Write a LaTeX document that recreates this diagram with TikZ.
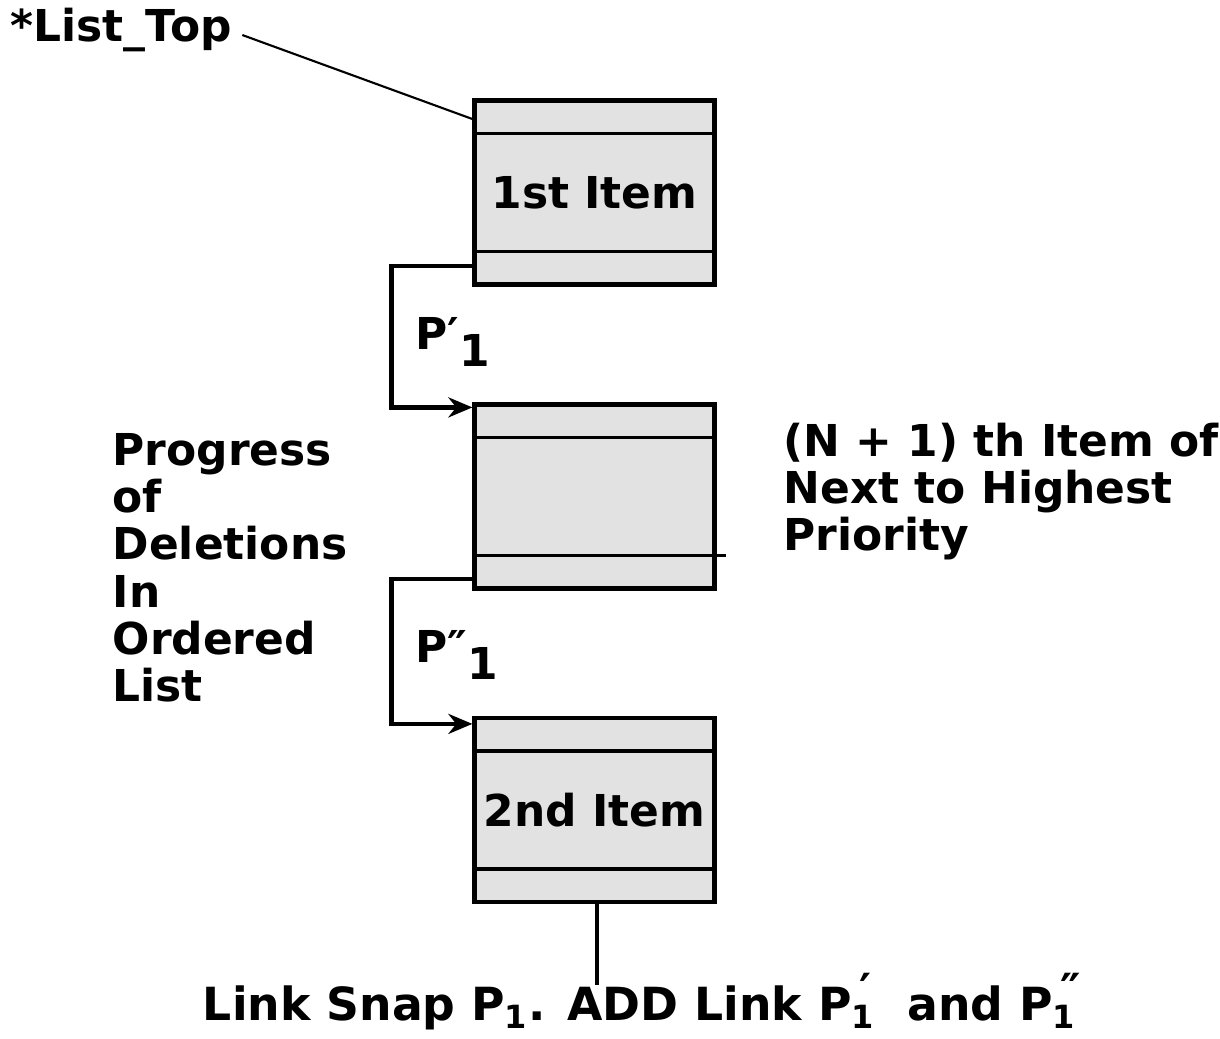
\documentclass[tikz,border=0pt]{standalone}
\usepackage{fontspec}
\setmainfont{DejaVu Sans}
\usetikzlibrary{arrows.meta,calc}
\definecolor{shade}{RGB}{226,226,226}
\newcommand{\lbl}{\fontsize{12.5}{13.4}\selectfont\bfseries}
\newcommand{\pr}[1]{\rlap{\raisebox{0.55ex}{\,#1}}}
\tikzset{
  >={Stealth[length=2.4mm,width=2mm]},
  item/.style={draw,fill=shade,line width=1.2pt,minimum width=24mm,minimum height=18.4mm,
    inner sep=0pt,font=\lbl},
  link/.style={->,line width=1.2pt},
  slot/.style={line width=1pt},
  tag/.style={font=\lbl,inner sep=0pt,align=left},
}

\begin{document}
\begin{tikzpicture}
    \useasboundingbox (0,0) rectangle (12.2,-10.38);
    % the three list items
    \node[item] (b1) at (5.945,-1.925) {1st Item};
    \node[item] (b2) at (5.945,-4.965) {};
    \node[item] (b3) at (5.945,-8.10) {2nd Item};
    \foreach \b in {b1,b2,b3} {
      \draw[slot] ($(\b.north west)+(0,-0.35)$) -- ($(\b.north east)+(0,-0.35)$);
    }
    \foreach \b in {b1,b3} {
      \draw[slot] ($(\b.south west)+(0,0.35)$) -- ($(\b.south east)+(0,0.35)$);
    }
    \draw[slot] ($(b2.south west)+(0,0.35)$) -- ($(b2.south east)+(0.09,0.35)$);
    % links
    \draw[link] ($(b1.south west)+(0,0.21)$) -- ++(-0.81,0) |- ($(b2.north west)+(0,-0.05)$);
    \draw[link] ($(b2.south west)+(0,0.12)$) -- ++(-0.81,0) |- ($(b3.north west)+(0,-0.08)$);
    \node[tag,anchor=west] (p1) at (4.15,-3.42) {P′\raisebox{-0.7ex}{1}};
    \node[tag,anchor=west] (p2) at (4.15,-6.55) {P″\raisebox{-0.7ex}{1}};
    % labels
    \node[tag,anchor=west] (top) at (0.1,-0.3) {*List\_Top};
    \draw[line width=0.6pt] (top.east)+(0.1,-0.05) coordinate (t0) (t0) -- (b1.north west |- 0,-1.19);
    \node[tag,anchor=north west] (prog) at (1.12,-4.33) {Progress\\of\\Deletions\\In\\Ordered\\List};
    \node[tag,anchor=north west] (nth) at (7.83,-4.22) {(N + 1) th Item of\\Next to Highest\\Priority};
    \node[tag,font=\fontsize{13}{14}\selectfont\bfseries,anchor=base] (snap) at (6.4,-10.2)
      {Link Snap P\textsubscript{1}. ADD Link P\pr{′}\textsubscript{1}\ \ and P\pr{″}\textsubscript{1}};
    \draw[line width=1pt] (b3.south -| 5.97,0) -- (5.97,-9.85);
\end{tikzpicture}
\end{document}
